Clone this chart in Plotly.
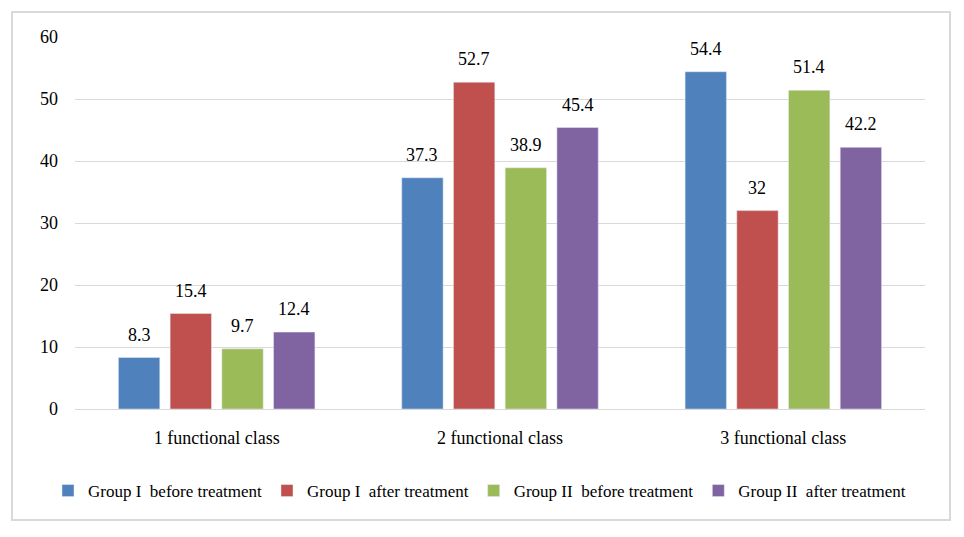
import plotly.graph_objects as go

categories = ["1 functional class", "2 functional class", "3 functional class"]
series_names = ["Group I\u00a0 before treatment", "Group I\u00a0 after treatment",
                "Group II\u00a0 before treatment", "Group II\u00a0 after treatment"]
g1_before = [8.3, 37.3, 54.4]
g1_after = [15.4, 52.7, 32]
g2_before = [9.7, 38.9, 51.4]
g2_after = [12.4, 45.4, 42.2]
colors = ["#4F81BD", "#C0504D", "#9BBB59", "#8064A2"]
y_ticks = [0, 10, 20, 30, 40, 50, 60]

FONT = "Liberation Serif"
FS = 18

W, H = 964, 537
ml, mr, mt, mb = 75, 39, 37, 128
pw, ph = W - ml - mr, H - mt - mb
bargap, bargroupgap = 0.27, 0.2

def px(x):
    return (x - ml) / pw

def py(y):
    return (H - mb - y) / ph

all_series = [g1_before, g1_after, g2_before, g2_after]
n = len(all_series)
cat_px = pw / len(categories)
slot_px = cat_px * (1 - bargap) / n

fig = go.Figure()
annotations = []
for i, (name, vals, col) in enumerate(zip(series_names, all_series, colors)):
    fig.add_trace(go.Bar(
        x=categories, y=vals, name=name, marker_color=col,
    ))
    for c, v in zip(categories, vals):
        annotations.append(dict(
            x=c, y=v, xref="x", yref="y", text=str(v), showarrow=False,
            xanchor="center", yanchor="bottom", yshift=11,
            xshift=(i - (n - 1) / 2) * slot_px,
            font=dict(family=FONT, size=FS, color="#000000"),
        ))

fig.update_layout(
    width=W, height=H,
    margin=dict(l=ml, r=mr, t=mt, b=mb, autoexpand=False),
    paper_bgcolor="white", plot_bgcolor="white",
    barmode="group", bargap=bargap, bargroupgap=bargroupgap,
    font=dict(family=FONT, size=FS, color="#000000"),
    showlegend=True,
    legend=dict(orientation="h", x=px(48), xanchor="left", y=py(491), yanchor="middle",
                font=dict(family=FONT, size=17), itemwidth=30, tracegroupgap=0,
                bgcolor="rgba(0,0,0,0)"),
    xaxis=dict(showgrid=False, showline=True, linecolor="#D9D9D9", linewidth=1,
               ticks="", tickfont=dict(family=FONT, size=FS), ticklabelstandoff=12),
    yaxis=dict(range=[0, 60], tickvals=y_ticks, showgrid=True, gridcolor="#D9D9D9",
               gridwidth=1, zeroline=False, showline=False, ticks="",
               tickfont=dict(family=FONT, size=FS), ticklabelstandoff=16),
    annotations=annotations,
    shapes=[dict(type="rect", xref="paper", yref="paper",
                 x0=px(12), x1=px(950), y0=py(520), y1=py(12),
                 line=dict(color="#D9D9D9", width=2), fillcolor="rgba(0,0,0,0)", layer="below")],
)

fig.write_html("out.html", config={"displayModeBar": False},
               post_script="document.body.style.margin='0px';")
